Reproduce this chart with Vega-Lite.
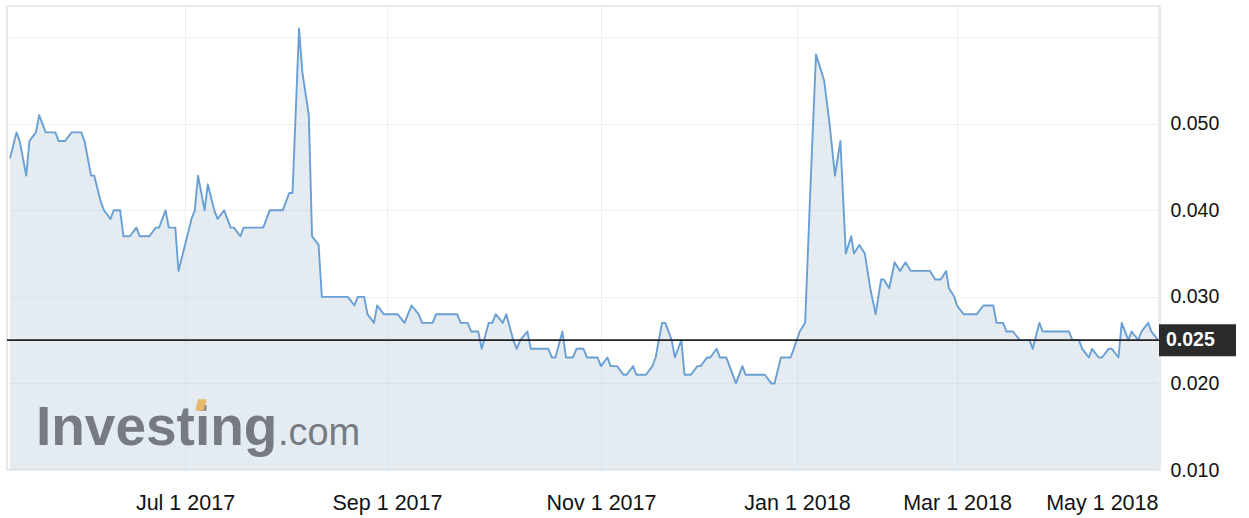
{
  "$schema": "https://vega.github.io/schema/vega-lite/v6.json",
  "width": 1153,
  "height": 464,
  "autosize": {"type": "none"},
  "padding": {"left": 7, "top": 6, "right": 89, "bottom": 48},
  "background": "white",
  "config": {
    "view": {"stroke": "#dde3ea", "strokeWidth": 1.5},
    "font": "Liberation Sans"
  },
  "data": {
    "format": {"parse": {"date": "date"}},
    "values": [
      {"date": "2017-05-08", "price": 0.046},
      {"date": "2017-05-10", "price": 0.049},
      {"date": "2017-05-11", "price": 0.048},
      {"date": "2017-05-13", "price": 0.044},
      {"date": "2017-05-14", "price": 0.048},
      {"date": "2017-05-16", "price": 0.049},
      {"date": "2017-05-17", "price": 0.051},
      {"date": "2017-05-19", "price": 0.049},
      {"date": "2017-05-20", "price": 0.049},
      {"date": "2017-05-22", "price": 0.049},
      {"date": "2017-05-23", "price": 0.048},
      {"date": "2017-05-25", "price": 0.048},
      {"date": "2017-05-27", "price": 0.049},
      {"date": "2017-05-28", "price": 0.049},
      {"date": "2017-05-30", "price": 0.049},
      {"date": "2017-05-31", "price": 0.048},
      {"date": "2017-06-02", "price": 0.044},
      {"date": "2017-06-03", "price": 0.044},
      {"date": "2017-06-05", "price": 0.041},
      {"date": "2017-06-06", "price": 0.040},
      {"date": "2017-06-08", "price": 0.039},
      {"date": "2017-06-09", "price": 0.040},
      {"date": "2017-06-11", "price": 0.040},
      {"date": "2017-06-12", "price": 0.037},
      {"date": "2017-06-14", "price": 0.037},
      {"date": "2017-06-16", "price": 0.038},
      {"date": "2017-06-17", "price": 0.037},
      {"date": "2017-06-19", "price": 0.037},
      {"date": "2017-06-20", "price": 0.037},
      {"date": "2017-06-22", "price": 0.038},
      {"date": "2017-06-23", "price": 0.038},
      {"date": "2017-06-25", "price": 0.040},
      {"date": "2017-06-26", "price": 0.038},
      {"date": "2017-06-28", "price": 0.038},
      {"date": "2017-06-29", "price": 0.033},
      {"date": "2017-07-01", "price": 0.036},
      {"date": "2017-07-03", "price": 0.039},
      {"date": "2017-07-04", "price": 0.040},
      {"date": "2017-07-05", "price": 0.044},
      {"date": "2017-07-07", "price": 0.040},
      {"date": "2017-07-08", "price": 0.043},
      {"date": "2017-07-10", "price": 0.040},
      {"date": "2017-07-11", "price": 0.039},
      {"date": "2017-07-13", "price": 0.040},
      {"date": "2017-07-15", "price": 0.038},
      {"date": "2017-07-16", "price": 0.038},
      {"date": "2017-07-18", "price": 0.037},
      {"date": "2017-07-19", "price": 0.038},
      {"date": "2017-07-21", "price": 0.038},
      {"date": "2017-07-22", "price": 0.038},
      {"date": "2017-07-24", "price": 0.038},
      {"date": "2017-07-25", "price": 0.038},
      {"date": "2017-07-27", "price": 0.040},
      {"date": "2017-07-28", "price": 0.040},
      {"date": "2017-07-30", "price": 0.040},
      {"date": "2017-07-31", "price": 0.040},
      {"date": "2017-08-02", "price": 0.042},
      {"date": "2017-08-03", "price": 0.042},
      {"date": "2017-08-05", "price": 0.061},
      {"date": "2017-08-06", "price": 0.056},
      {"date": "2017-08-08", "price": 0.051},
      {"date": "2017-08-09", "price": 0.037},
      {"date": "2017-08-11", "price": 0.036},
      {"date": "2017-08-12", "price": 0.030},
      {"date": "2017-08-14", "price": 0.030},
      {"date": "2017-08-15", "price": 0.030},
      {"date": "2017-08-17", "price": 0.030},
      {"date": "2017-08-18", "price": 0.030},
      {"date": "2017-08-20", "price": 0.030},
      {"date": "2017-08-22", "price": 0.029},
      {"date": "2017-08-23", "price": 0.030},
      {"date": "2017-08-25", "price": 0.030},
      {"date": "2017-08-26", "price": 0.028},
      {"date": "2017-08-28", "price": 0.027},
      {"date": "2017-08-29", "price": 0.029},
      {"date": "2017-08-31", "price": 0.028},
      {"date": "2017-09-01", "price": 0.028},
      {"date": "2017-09-03", "price": 0.028},
      {"date": "2017-09-04", "price": 0.028},
      {"date": "2017-09-06", "price": 0.027},
      {"date": "2017-09-07", "price": 0.028},
      {"date": "2017-09-08", "price": 0.029},
      {"date": "2017-09-10", "price": 0.028},
      {"date": "2017-09-11", "price": 0.027},
      {"date": "2017-09-12", "price": 0.027},
      {"date": "2017-09-14", "price": 0.027},
      {"date": "2017-09-15", "price": 0.028},
      {"date": "2017-09-17", "price": 0.028},
      {"date": "2017-09-18", "price": 0.028},
      {"date": "2017-09-20", "price": 0.028},
      {"date": "2017-09-21", "price": 0.028},
      {"date": "2017-09-22", "price": 0.027},
      {"date": "2017-09-24", "price": 0.027},
      {"date": "2017-09-25", "price": 0.026},
      {"date": "2017-09-27", "price": 0.026},
      {"date": "2017-09-28", "price": 0.024},
      {"date": "2017-09-30", "price": 0.027},
      {"date": "2017-10-01", "price": 0.027},
      {"date": "2017-10-02", "price": 0.028},
      {"date": "2017-10-04", "price": 0.027},
      {"date": "2017-10-05", "price": 0.028},
      {"date": "2017-10-07", "price": 0.025},
      {"date": "2017-10-08", "price": 0.024},
      {"date": "2017-10-09", "price": 0.025},
      {"date": "2017-10-11", "price": 0.026},
      {"date": "2017-10-12", "price": 0.024},
      {"date": "2017-10-14", "price": 0.024},
      {"date": "2017-10-15", "price": 0.024},
      {"date": "2017-10-17", "price": 0.024},
      {"date": "2017-10-18", "price": 0.023},
      {"date": "2017-10-19", "price": 0.023},
      {"date": "2017-10-21", "price": 0.026},
      {"date": "2017-10-22", "price": 0.023},
      {"date": "2017-10-24", "price": 0.023},
      {"date": "2017-10-25", "price": 0.024},
      {"date": "2017-10-27", "price": 0.024},
      {"date": "2017-10-28", "price": 0.023},
      {"date": "2017-10-29", "price": 0.023},
      {"date": "2017-10-31", "price": 0.023},
      {"date": "2017-11-01", "price": 0.022},
      {"date": "2017-11-03", "price": 0.023},
      {"date": "2017-11-04", "price": 0.022},
      {"date": "2017-11-06", "price": 0.022},
      {"date": "2017-11-08", "price": 0.021},
      {"date": "2017-11-09", "price": 0.021},
      {"date": "2017-11-11", "price": 0.022},
      {"date": "2017-11-12", "price": 0.021},
      {"date": "2017-11-14", "price": 0.021},
      {"date": "2017-11-15", "price": 0.021},
      {"date": "2017-11-17", "price": 0.022},
      {"date": "2017-11-18", "price": 0.023},
      {"date": "2017-11-20", "price": 0.027},
      {"date": "2017-11-21", "price": 0.027},
      {"date": "2017-11-23", "price": 0.025},
      {"date": "2017-11-24", "price": 0.023},
      {"date": "2017-11-26", "price": 0.025},
      {"date": "2017-11-27", "price": 0.021},
      {"date": "2017-11-29", "price": 0.021},
      {"date": "2017-12-01", "price": 0.022},
      {"date": "2017-12-02", "price": 0.022},
      {"date": "2017-12-04", "price": 0.023},
      {"date": "2017-12-05", "price": 0.023},
      {"date": "2017-12-07", "price": 0.024},
      {"date": "2017-12-08", "price": 0.023},
      {"date": "2017-12-10", "price": 0.023},
      {"date": "2017-12-11", "price": 0.022},
      {"date": "2017-12-13", "price": 0.020},
      {"date": "2017-12-15", "price": 0.022},
      {"date": "2017-12-16", "price": 0.021},
      {"date": "2017-12-18", "price": 0.021},
      {"date": "2017-12-19", "price": 0.021},
      {"date": "2017-12-21", "price": 0.021},
      {"date": "2017-12-22", "price": 0.021},
      {"date": "2017-12-24", "price": 0.020},
      {"date": "2017-12-25", "price": 0.020},
      {"date": "2017-12-27", "price": 0.023},
      {"date": "2017-12-28", "price": 0.023},
      {"date": "2017-12-30", "price": 0.023},
      {"date": "2017-12-31", "price": 0.024},
      {"date": "2018-01-02", "price": 0.026},
      {"date": "2018-01-04", "price": 0.027},
      {"date": "2018-01-06", "price": 0.043},
      {"date": "2018-01-08", "price": 0.058},
      {"date": "2018-01-09", "price": 0.057},
      {"date": "2018-01-11", "price": 0.055},
      {"date": "2018-01-13", "price": 0.050},
      {"date": "2018-01-15", "price": 0.044},
      {"date": "2018-01-17", "price": 0.048},
      {"date": "2018-01-19", "price": 0.035},
      {"date": "2018-01-21", "price": 0.037},
      {"date": "2018-01-22", "price": 0.035},
      {"date": "2018-01-24", "price": 0.036},
      {"date": "2018-01-26", "price": 0.035},
      {"date": "2018-01-28", "price": 0.031},
      {"date": "2018-01-30", "price": 0.028},
      {"date": "2018-02-01", "price": 0.032},
      {"date": "2018-02-02", "price": 0.032},
      {"date": "2018-02-04", "price": 0.031},
      {"date": "2018-02-06", "price": 0.034},
      {"date": "2018-02-08", "price": 0.033},
      {"date": "2018-02-10", "price": 0.034},
      {"date": "2018-02-12", "price": 0.033},
      {"date": "2018-02-14", "price": 0.033},
      {"date": "2018-02-15", "price": 0.033},
      {"date": "2018-02-17", "price": 0.033},
      {"date": "2018-02-19", "price": 0.033},
      {"date": "2018-02-21", "price": 0.032},
      {"date": "2018-02-23", "price": 0.032},
      {"date": "2018-02-25", "price": 0.033},
      {"date": "2018-02-26", "price": 0.031},
      {"date": "2018-02-28", "price": 0.030},
      {"date": "2018-03-01", "price": 0.029},
      {"date": "2018-03-03", "price": 0.028},
      {"date": "2018-03-04", "price": 0.028},
      {"date": "2018-03-06", "price": 0.028},
      {"date": "2018-03-07", "price": 0.028},
      {"date": "2018-03-09", "price": 0.029},
      {"date": "2018-03-10", "price": 0.029},
      {"date": "2018-03-12", "price": 0.029},
      {"date": "2018-03-13", "price": 0.027},
      {"date": "2018-03-15", "price": 0.027},
      {"date": "2018-03-16", "price": 0.026},
      {"date": "2018-03-18", "price": 0.026},
      {"date": "2018-03-20", "price": 0.025},
      {"date": "2018-03-21", "price": 0.025},
      {"date": "2018-03-23", "price": 0.025},
      {"date": "2018-03-24", "price": 0.024},
      {"date": "2018-03-26", "price": 0.027},
      {"date": "2018-03-27", "price": 0.026},
      {"date": "2018-03-29", "price": 0.026},
      {"date": "2018-03-30", "price": 0.026},
      {"date": "2018-04-01", "price": 0.026},
      {"date": "2018-04-02", "price": 0.026},
      {"date": "2018-04-04", "price": 0.026},
      {"date": "2018-04-05", "price": 0.025},
      {"date": "2018-04-07", "price": 0.025},
      {"date": "2018-04-08", "price": 0.024},
      {"date": "2018-04-10", "price": 0.023},
      {"date": "2018-04-11", "price": 0.024},
      {"date": "2018-04-13", "price": 0.023},
      {"date": "2018-04-14", "price": 0.023},
      {"date": "2018-04-16", "price": 0.024},
      {"date": "2018-04-17", "price": 0.024},
      {"date": "2018-04-19", "price": 0.023},
      {"date": "2018-04-20", "price": 0.027},
      {"date": "2018-04-22", "price": 0.025},
      {"date": "2018-04-23", "price": 0.026},
      {"date": "2018-04-25", "price": 0.025},
      {"date": "2018-04-26", "price": 0.026},
      {"date": "2018-04-28", "price": 0.027},
      {"date": "2018-04-29", "price": 0.026},
      {"date": "2018-05-01", "price": 0.025}
    ]
  },
  "encoding": {
    "y": {
      "field": "price",
      "type": "quantitative",
      "scale": {"domain": [0.01, 0.0636], "nice": false, "zero": false},
      "axis": {
        "orient": "right",
        "values": [0.01, 0.02, 0.03, 0.04, 0.05, 0.06],
        "labelExpr": "datum.value > 0.055 ? '' : format(datum.value, '.3f')",
        "title": null,
        "labelFont": "Liberation Sans",
        "labelFontSize": 19.5,
        "labelColor": "#111111",
        "labelPadding": 10,
        "ticks": false,
        "domain": false,
        "grid": true,
        "gridColor": "#edf0f3",
        "gridWidth": 1
      }
    }
  },
  "layer": [
    {
      "mark": {"type": "area", "fill": "#bbcfdf", "fillOpacity": 0.4, "line": false},
      "encoding": {
        "x": {
          "field": "date",
          "type": "quantitative",
          "scale": {
            "nice": false,
            "zero": false,
            "domain": [1494201600000, 1498867200000, 1504224000000, 1509494400000, 1514764800000, 1519862400000, 1525132800000],
            "range": [3, 178, 380, 594, 790, 950, 1151]
          },
          "axis": {
            "values": [1498867200000, 1504224000000, 1509494400000, 1514764800000, 1519862400000, 1525132800000],
            "labelExpr": "utcFormat(datum.value, '%b %-d %Y')",
            "title": null,
            "labelFont": "Liberation Sans",
            "labelFontSize": 21.5,
            "labelColor": "#111111",
            "labelFlush": true,
            "labelOverlap": false,
            "labelBaseline": "alphabetic",
            "labelPadding": 39,
            "ticks": false,
            "domain": false,
            "grid": true,
            "gridColor": "#edf0f3",
            "gridWidth": 1
          }
        },
        "y2": {"datum": 0.01}
      }
    },
    {
      "mark": {"type": "line", "stroke": "#6a9fd4", "strokeWidth": 1.9, "strokeJoin": "round"},
      "encoding": {"x": {"field": "date", "type": "quantitative"}}
    },
    {
      "transform": [{"filter": "time(datum.date) == 1525132800000"}],
      "mark": {"type": "rule", "stroke": "#222222", "strokeWidth": 1.8}
    },
    {
      "transform": [{"filter": "time(datum.date) == 1494892800000"}],
      "mark": {"type": "text", "text": "Investing", "font": "Liberation Sans", "fontWeight": "bold", "fontSize": 55, "fill": "#767b82", "align": "left", "baseline": "alphabetic"},
      "encoding": {
        "x": {"field": "date", "type": "quantitative"},
        "y": {"datum": 0.0129, "type": "quantitative"}
      }
    },
    {
      "transform": [{"filter": "time(datum.date) == 1494892800000"}],
      "mark": {"type": "text", "text": ".com", "font": "Liberation Sans", "fontSize": 38, "fill": "#767b82", "align": "left", "baseline": "alphabetic", "dx": 242},
      "encoding": {
        "x": {"field": "date", "type": "quantitative"},
        "y": {"datum": 0.0129, "type": "quantitative"}
      }
    },
    {
      "transform": [{"filter": "time(datum.date) == 1494892800000"}],
      "mark": {"type": "point", "shape": "M-0.5,-1L1,-1L0.5,1L-1,1Z", "filled": true, "fill": "#e8b86a", "opacity": 1, "size": 130, "xOffset": 165, "yOffset": -40},
      "encoding": {
        "x": {"field": "date", "type": "quantitative"},
        "y": {"datum": 0.0129, "type": "quantitative"}
      }
    },
    {
      "transform": [{"filter": "time(datum.date) == 1525132800000"}],
      "mark": {"type": "rect", "fill": "#2b2b2b", "xOffset": -1, "x2Offset": 76, "yOffset": -16, "y2Offset": 16},
      "encoding": {
        "x": {"value": "width"},
        "x2": {"value": "width"},
        "y2": {"field": "price"}
      }
    },
    {
      "transform": [{"filter": "time(datum.date) == 1525132800000"}],
      "mark": {"type": "text", "font": "Liberation Sans", "fontWeight": "bold", "fontSize": 19.5, "fill": "#ffffff", "align": "left", "baseline": "middle", "dx": 6},
      "encoding": {
        "x": {"value": "width"},
        "text": {"field": "price", "type": "quantitative", "format": ".3f"}
      }
    }
  ]
}
